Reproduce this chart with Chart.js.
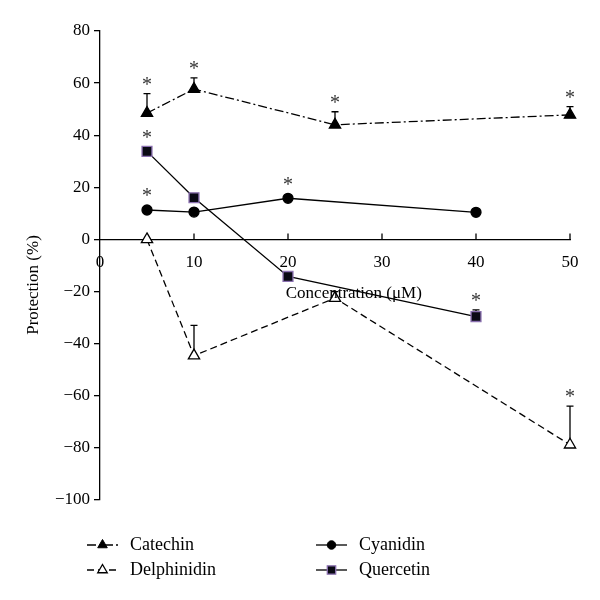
<!DOCTYPE html>
<html>
<head>
<meta charset="utf-8">
<script src="https://cdn.jsdelivr.net/npm/chart.js@4/dist/chart.umd.min.js"></script>
<style>
  html, body { margin: 0; padding: 0; background: #fff; }
  #wrap { width: 600px; height: 600px; }
</style>
</head>
<body>
<div id="wrap"><canvas id="protChart" width="600" height="600"></canvas></div>
<script>
// values
const catechinX = [5, 10, 25, 50];
const catechinY = [48.5, 57.7, 44, 47.8];
const catechinErr = [56, 62, 49, 51];
const catechinStar = [true, true, true, true];

const delphinidinX = [5, 10, 25, 50];
const delphinidinY = [0, -44.6, -22.5, -78.8];
const delphinidinErr = [null, -33, -20, -64];
const delphinidinStar = [false, false, false, true];

const cyanidinX = [5, 10, 20, 40];
const cyanidinY = [11.3, 10.5, 15.8, 10.4];
const cyanidinErr = [null, null, null, null];
const cyanidinStar = [true, false, true, false];

const quercetinX = [5, 10, 20, 40];
const quercetinY = [33.8, 16, -14.2, -29.6];
const quercetinErr = [null, null, null, -27];
const quercetinStar = [true, false, false, true];

const xTicks = [0, 10, 20, 30, 40, 50];
const yTicks = [-100, -80, -60, -40, -20, 0, 20, 40, 60, 80];

const serif = "'Liberation Serif', 'DejaVu Serif', serif";

function pts(xs, ys) { return xs.map((x, i) => ({x: x, y: ys[i]})); }

const datasets = [
  {label: 'Catechin', data: pts(catechinX, catechinY), err: catechinErr, star: catechinStar,
   borderColor: '#000', borderWidth: 1.3, borderDash: [9, 3, 2, 3],
   pointStyle: 'triangle', pointRadius: 6.5, pointBackgroundColor: '#000', pointBorderColor: '#000', legendCol: 0, legendRow: 0},
  {label: 'Delphinidin', data: pts(delphinidinX, delphinidinY), err: delphinidinErr, star: delphinidinStar,
   borderColor: '#000', borderWidth: 1.3, borderDash: [7, 4],
   pointStyle: 'triangle', pointRadius: 6.5, pointBackgroundColor: '#fff', pointBorderColor: '#000', pointBorderWidth: 1.3, legendCol: 0, legendRow: 1},
  {label: 'Cyanidin', data: pts(cyanidinX, cyanidinY), err: cyanidinErr, star: cyanidinStar,
   borderColor: '#000', borderWidth: 1.3,
   pointStyle: 'circle', pointRadius: 5, pointBackgroundColor: '#000', pointBorderColor: '#000', legendCol: 1, legendRow: 0},
  {label: 'Quercetin', data: pts(quercetinX, quercetinY), err: quercetinErr, star: quercetinStar,
   borderColor: '#000', borderWidth: 1.3,
   pointStyle: 'rect', pointRadius: 7, pointBackgroundColor: '#0a0a14', pointBorderColor: '#8a70b0', pointBorderWidth: 1.3, legendCol: 1, legendRow: 1}
];
datasets.forEach(d => { d.showLine = true; d.fill = false; d.tension = 0; d.clip = false; });

// error bars, asterisks, titles, legend
const errPlugin = {
  id: 'errPlugin',
  beforeDatasetsDraw(chart) {
    const ctx = chart.ctx, xs = chart.scales.x, ys = chart.scales.y;
    ctx.save();
    ctx.strokeStyle = '#000';
    ctx.lineWidth = 1.3;
    // small inward ticks on the zero line
    const y0 = ys.getPixelForValue(0);
    xTicks.slice(1).forEach(v => {
      const px = xs.getPixelForValue(v);
      ctx.beginPath(); ctx.moveTo(px, y0); ctx.lineTo(px, y0 - 6); ctx.stroke();
    });
    chart.data.datasets.forEach(ds => {
      ds.data.forEach((p, i) => {
        const e = ds.err[i];
        if (e == null) return;
        const px = xs.getPixelForValue(p.x);
        const py = ys.getPixelForValue(p.y);
        const ey = ys.getPixelForValue(e);
        ctx.beginPath();
        ctx.moveTo(px, py); ctx.lineTo(px, ey);
        ctx.moveTo(px - 3.5, ey); ctx.lineTo(px + 3.5, ey);
        ctx.stroke();
      });
    });
    ctx.restore();
  },
  afterDatasetsDraw(chart) {
    const ctx = chart.ctx, xs = chart.scales.x, ys = chart.scales.y;
    ctx.save();
    ctx.fillStyle = '#333';
    ctx.font = '20px ' + serif;
    ctx.textAlign = 'center';
    ctx.textBaseline = 'middle';
    chart.data.datasets.forEach(ds => {
      ds.data.forEach((p, i) => {
        if (!ds.star[i]) return;
        const px = xs.getPixelForValue(p.x);
        const e = ds.err[i];
        const top = e != null ? ys.getPixelForValue(e) - 6 : ys.getPixelForValue(p.y) - 11;
        ctx.fillText('*', px, top - 2);
      });
    });
    ctx.fillStyle = '#000';
    ctx.font = '17px ' + serif;
    // x-axis title, just under the zero line
    ctx.fillText('Concentration (\u03bcM)', xs.getPixelForValue(27), ys.getPixelForValue(0) + 54);
    // y-axis title
    ctx.translate(34, 285);
    ctx.rotate(-Math.PI / 2);
    ctx.fillText('Protection (%)', 0, 0);
    ctx.restore();
  },
  afterDraw(chart) {
    const ctx = chart.ctx;
    const colX = [87, 316], rowY = [545, 570];
    ctx.save();
    chart.data.datasets.forEach(ds => {
      const x0 = colX[ds.legendCol], y = rowY[ds.legendRow];
      ctx.strokeStyle = '#000';
      ctx.lineWidth = 1.3;
      ctx.setLineDash(ds.borderDash || []);
      ctx.beginPath();
      ctx.moveTo(x0, y); ctx.lineTo(x0 + 31, y);
      ctx.stroke();
      ctx.setLineDash([]);
      ctx.fillStyle = ds.pointBackgroundColor;
      ctx.strokeStyle = ds.pointBorderColor;
      ctx.lineWidth = ds.pointBorderWidth || 1;
      Chart.helpers.drawPoint(ctx, {pointStyle: ds.pointStyle, radius: ds.pointRadius * 0.85, borderWidth: ds.pointBorderWidth || 1}, x0 + 15.5, y);
      ctx.fillStyle = '#000';
      ctx.font = '18px ' + serif;
      ctx.textAlign = 'left';
      ctx.textBaseline = 'middle';
      ctx.fillText(ds.label, x0 + 43, y);
    });
    ctx.restore();
  }
};

new Chart(document.getElementById('protChart'), {
  type: 'scatter',
  data: {datasets: datasets},
  options: {
    responsive: false,
    animation: false,
    layout: {padding: {top: 31, right: 30, bottom: 100, left: 0}},
    plugins: {legend: {display: false}, tooltip: {enabled: false}},
    scales: {
      x: {
        type: 'linear', position: {y: 0}, min: 0, max: 50,
        afterBuildTicks: s => { s.ticks = xTicks.map(v => ({value: v})); },
        grid: {display: false},
        border: {display: true, color: '#000', width: 1.3},
        ticks: {color: '#000', font: {family: serif, size: 17}, padding: 5}
      },
      y: {
        type: 'linear', min: -100, max: 80,
        afterBuildTicks: s => { s.ticks = yTicks.map(v => ({value: v})); },
        afterFit: s => { s.width = 100; },
        grid: {display: true, drawOnChartArea: false, drawTicks: true, tickLength: 6, color: '#000', lineWidth: 1.3},
        border: {display: true, color: '#000', width: 1.3},
        ticks: {color: '#000', font: {family: serif, size: 17}, padding: 4,
          callback: v => (v < 0 ? '\u2212' + Math.abs(v) : '' + v)}
      }
    }
  },
  plugins: [errPlugin]
});
</script>
</body>
</html>
